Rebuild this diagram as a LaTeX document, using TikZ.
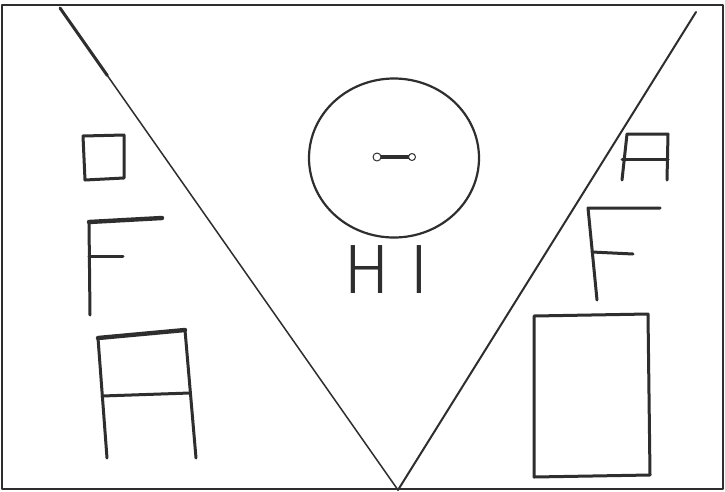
\documentclass[tikz,border=0pt]{standalone}
\usepackage{fontspec}
\usetikzlibrary{calc,shapes.geometric}
\newfontfamily\hifont{Fira Sans Light}
\definecolor{ink}{HTML}{2E2E2E}
\begin{document}
\begin{tikzpicture}[x=1pt,y=-1pt,line cap=round,line join=round,
  pen/.style={line width=3pt,draw=ink},
  heavypen/.style={line width=4.4pt,draw=ink},
  thinpen/.style={line width=1.5pt,draw=ink},
  framepen/.style={line width=2.2pt,draw=ink},
  label/.style={font=\hifont\fontsize{70}{70}\selectfont,text=ink,inner sep=0pt,anchor=west}]
\useasboundingbox (0,0) rectangle (725,491);
\fill[white] (0,0) rectangle (725,491);
% frame
\draw[framepen] (2,5) rectangle (723,489);
% the V
\coordinate (vl) at (60,8);
\coordinate (vb) at (398,490);
\coordinate (vr) at (696,12);
\draw[thinpen] (vl) -- (vb);
\draw[line width=3pt,draw=ink] (vl) -- ($(vl)!0.14!(vb)$);
\draw[thinpen,line width=2pt] (vb) -- (vr);
% circle with handle
\node[draw=ink,line width=2.2pt,ellipse,minimum width=170pt,minimum height=159pt,inner sep=0pt] (face) at (394,158) {};
\coordinate (hl) at (377,157);
\coordinate (hr) at (412,157);
\draw[line width=3.2pt,draw=ink] (hl) -- (hr);
\draw[draw=ink,line width=1pt,fill=white] (hl) circle (4pt);
\draw[draw=ink,line width=1pt,fill=white] (hr) circle (3.5pt);
\node[label] (hi) at (343,270) {H\kern19ptI};
% left column
\draw[pen] (83,136) -- (124,135) -- (124,178) -- (85,180) -- cycle;
\draw[pen] (90,315) -- (89,222);
\draw[heavypen] (89,222) -- (162,218);
\draw[pen] (89,256) -- (123,256);
\draw[pen] (107,458) -- (98,338);
\draw[heavypen] (98,338) -- (185,330);
\draw[pen] (185,330) -- (196,458);
\draw[pen] (102,396) -- (190,393);
% right column
\draw[pen] (622,180) -- (627,134) -- (668,134) -- (667,180);
\draw[pen] (622,159) -- (668,159);
\draw[pen] (597,300) -- (588,208) -- (660,208);
\draw[pen] (592,252) -- (633,254);
\draw[pen] (534,316) -- (648,314) -- (650,475) -- (534,477) -- cycle;
\end{tikzpicture}
\end{document}
